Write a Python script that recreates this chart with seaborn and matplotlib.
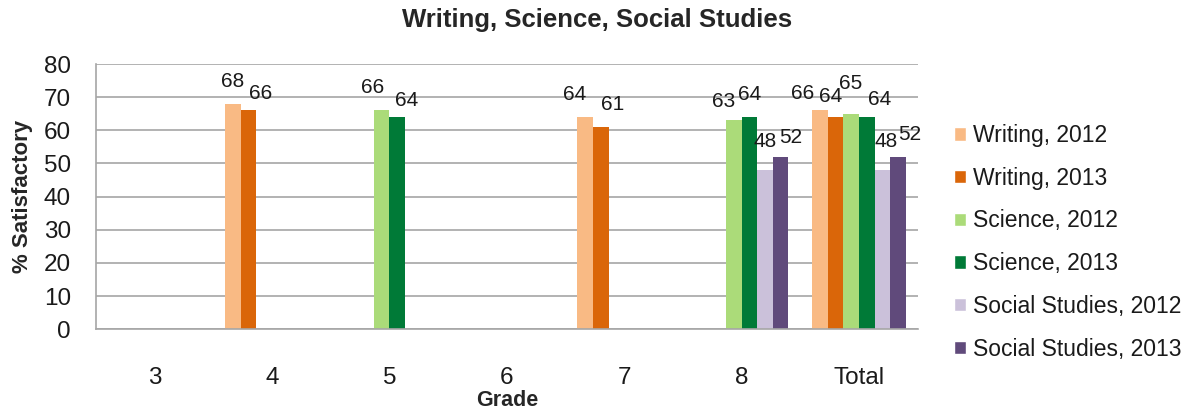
import numpy as np
import pandas as pd
import seaborn as sns
import matplotlib.pyplot as plt
from matplotlib.patches import Patch

# Data
grades = ["3", "4", "5", "6", "7", "8", "Total"]
series = ["Writing, 2012", "Writing, 2013", "Science, 2012", "Science, 2013",
          "Social Studies, 2012", "Social Studies, 2013"]
writing_2012 = [np.nan, 68, np.nan, np.nan, 64, np.nan, 66]
writing_2013 = [np.nan, 66, np.nan, np.nan, 61, np.nan, 64]
science_2012 = [np.nan, np.nan, 66, np.nan, np.nan, 63, 65]
science_2013 = [np.nan, np.nan, 64, np.nan, np.nan, 64, 64]
social_2012 = [np.nan, np.nan, np.nan, np.nan, np.nan, 48, 48]
social_2013 = [np.nan, np.nan, np.nan, np.nan, np.nan, 52, 52]

colors = ["#F9BA84", "#DA6609", "#ABDB79", "#007A37", "#CBC1DA", "#604A7B"]

# label nudges (pixels) as placed in the original
label_dx = {
    "Writing, 2012": [0, -10, -17],
    "Writing, 2013": [12, 12, -5],
    "Science, 2012": [-9, -10, 0],
    "Science, 2013": [9, 0, 13],
    "Social Studies, 2012": [0, 4],
    "Social Studies, 2013": [10, 12],
}
label_dy = {
    "Writing, 2012": [17, 17, 11],
    "Writing, 2013": [11, 17, 15],
    "Science, 2012": [17, 13, 25],
    "Science, 2013": [11, 17, 12],
    "Social Studies, 2012": [23, 23],
    "Social Studies, 2013": [14, 17],
}

values = [writing_2012, writing_2013, science_2012, science_2013, social_2012, social_2013]
rows = []
for name, vals in zip(series, values):
    for g, v in zip(grades, vals):
        if not np.isnan(v):
            rows.append({"Grade": g, "Series": name, "Value": v})
df = pd.DataFrame(rows)

sns.set_style("white")
plt.rcParams["font.family"] = ["Liberation Sans", "DejaVu Sans"]

fig = plt.figure(figsize=(12.01, 4.13), dpi=100)
ax = fig.add_axes([0.080, 0.203, 0.684, 0.642])

sns.barplot(data=df, x="Grade", y="Value", hue="Series", order=grades,
            hue_order=series, palette=colors, width=0.8, ax=ax,
            errorbar=None, legend=False, saturation=1, linewidth=0)

# data labels
for name, cont in zip(series, ax.containers):
    bars = [b for b in cont if not np.isnan(b.get_height())]
    for i, b in enumerate(bars):
        ax.annotate(f"{b.get_height():.0f}",
                    (b.get_x() + b.get_width() / 2, b.get_height()),
                    xytext=(label_dx[name][i], label_dy[name][i]),
                    textcoords="offset pixels", ha="center", va="baseline",
                    fontsize=15, color="#1a1a1a")

ax.set_ylim(0, 80)
ax.set_xlim(-0.5, len(grades) - 0.5)
ax.set_yticks(range(0, 81, 10))
ax.yaxis.grid(True, color="#a6a6a6", linewidth=1.2)
ax.set_axisbelow(True)
for s in ["top", "right"]:
    ax.spines[s].set_visible(False)
for s in ["left", "bottom"]:
    ax.spines[s].set_color("#a6a6a6")
    ax.spines[s].set_linewidth(1.2)

ax.set_xticks(np.arange(-0.5, len(grades)), minor=True)
ax.tick_params(axis="x", which="minor", length=7, color="#a6a6a6", width=1.2)
ax.tick_params(axis="x", which="major", length=0, labelsize=17.5, pad=27)
ax.tick_params(axis="y", length=8, color="#a6a6a6", width=1.2, labelsize=17.5,
               pad=10, labelcolor="#1a1a1a")
ax.tick_params(axis="x", labelcolor="#1a1a1a")

ax.set_xlabel("Grade", fontsize=15.5, fontweight="bold")
ax.xaxis.set_label_coords(0.5, -0.268)
ax.xaxis.label.set_va("center")
ax.set_ylabel("% Satisfactory", fontsize=16, fontweight="bold", labelpad=8)
fig.suptitle("Writing, Science, Social Studies", fontsize=18.5,
             fontweight="bold", x=0.497, y=0.98)

handles = [Patch(facecolor=c, label=n) for c, n in zip(colors, series)]
fig.legend(handles=handles, loc="upper left", bbox_to_anchor=(0.787, 0.722),
           frameon=False, fontsize=16.5, handlelength=0.52, handleheight=0.52,
           handletextpad=0.3, labelspacing=0.86, borderaxespad=0,
           labelcolor="#1a1a1a")

fig.savefig("out.png", dpi=100)
